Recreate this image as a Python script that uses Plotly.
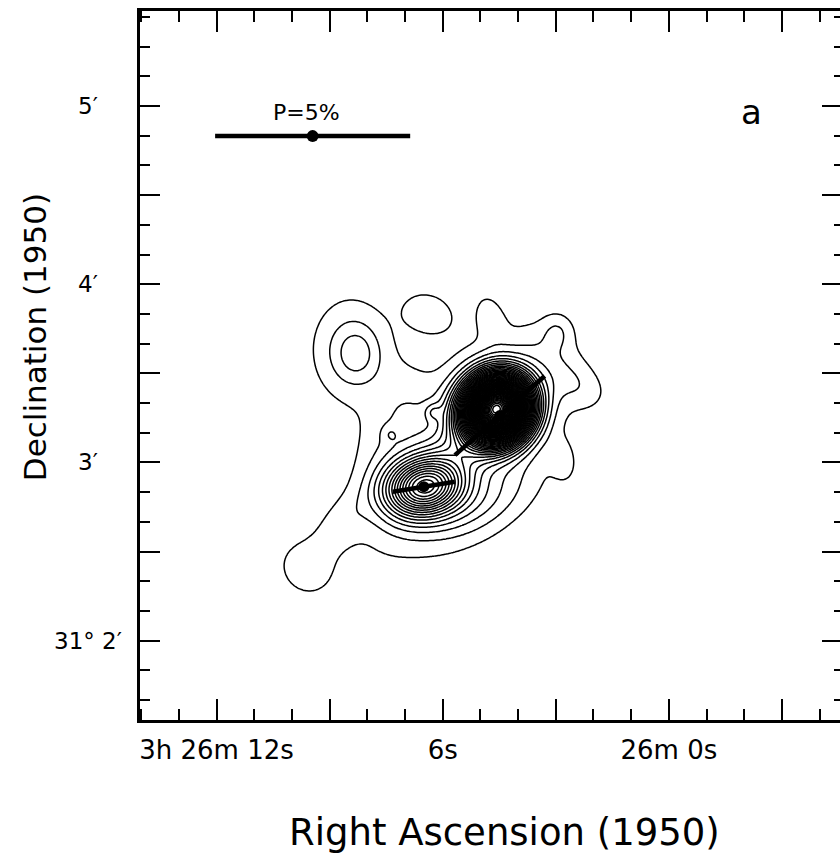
import numpy as np
import plotly.graph_objects as go

# Coordinates: RA as seconds of time past 3h 26m 00s (1950), Dec as arcmin past +31° 00' (1950)
RA_RANGE = [14.03, -4.54]
DEC_RANGE = [1.555, 5.533]
COS_DEC = np.cos(np.radians(31.05))
ARCSEC_PER_RA_SEC = 15.0 * COS_DEC

# Axis ticks
ra_tick_vals = [12, 9, 6, 3, 0, -3]
ra_tick_text = ["3h 26m 12s", "", "6s", "", "26m 0s", ""]
dec_tick_vals = [2.0, 2.5, 3.0, 3.5, 4.0, 4.5, 5.0]
dec_label_vals = [2.0, 3.0, 4.0, 5.0]
dec_label_text = ["31° 2′", "3′", "4′", "5′"]

# Emission components of the intensity map:
# centre (RA s, Dec arcmin), peak (contour units), major/minor sigma (arcsec), position angle (deg E of N)
src_ra    = [4.565, 6.50, 5.493, 5.281, 5.01, 8.279, 8.437, 7.00, 6.395, 4.75, 2.49, 2.97, 3.29, 2.81, 9.658, 8.72, 7.535, 6.26, 7.40]
src_dec   = [3.300, 2.862, 3.086, 3.131, 2.767, 3.608, 3.636, 3.30, 3.844, 3.816, 3.44, 3.731, 3.636, 3.008, 2.402, 2.654, 3.047, 3.283, 3.159]
src_peak  = [50.0, 14.0, 3.0, 1.8, 2.0, 1.6, 2.2, 1.0, 1.5, 1.2, 1.3, 1.3, 0.5, 1.2, 1.4, 1.2, 0.8, 1.6, 0.9]
src_major = [7.5, 9.0, 22.0, 32.0, 14.0, 6.0, 13.0, 10.0, 7.0, 6.0, 8.0, 4.0, 8.0, 5.0, 8.0, 9.0, 10.0, 2.0, 2.0]
src_minor = [7.0, 6.5, 8.0, 18.0, 7.0, 5.0, 10.0, 7.0, 5.5, 3.5, 5.0, 3.5, 5.0, 3.0, 7.0, 5.0, 8.0, 2.0, 2.0]
src_pa    = [-42, 100, -42, -42, -60, 0, 0, 0, 70, 15, 60, 0, 60, 10, 45, -40, 0, 0, 0]

# Contour levels
level_start, level_end, level_step = 1.0, 60.0, 1.0

# Polarization vectors: centre, percentage, position angle
vec_ra  = [4.485, 6.50]
vec_dec = [3.263, 2.864]
vec_pol = [3.05, 1.61]
vec_pa  = [-49.0, -81.0]

# Reference vector (P = 5%)
ref_ra, ref_dec, ref_pol, ref_pa = 9.45, 4.831, 5.0, 90.0
ARCSEC_PER_PERCENT = 13.3

# Intensity grid
gx = np.linspace(-4.7, 14.2, 400)
gy = np.linspace(1.5, 5.6, 350)
GX, GY = np.meshgrid(gx, gy)
field = np.zeros_like(GX)
for ra0, de0, amp, smaj, smin, pa in zip(src_ra, src_dec, src_peak, src_major, src_minor, src_pa):
    u = (GX - ra0) * ARCSEC_PER_RA_SEC        # east offset, arcsec
    v = (GY - de0) * 60.0                     # north offset, arcsec
    t = np.radians(pa)
    a = u * np.sin(t) + v * np.cos(t)
    b = u * np.cos(t) - v * np.sin(t)
    field += amp * np.exp(-0.5 * ((a / smaj) ** 2 + (b / smin) ** 2))


def vector_ends(ra0, de0, pol, pa):
    half = 0.5 * pol * ARCSEC_PER_PERCENT
    t = np.radians(pa)
    dra = half * np.sin(t) / ARCSEC_PER_RA_SEC
    dde = half * np.cos(t) / 60.0
    return [ra0 - dra, ra0 + dra], [de0 - dde, de0 + dde]


fig = go.Figure()

fig.add_trace(go.Contour(
    x=gx, y=gy, z=field,
    contours=dict(start=level_start, end=level_end, size=level_step, coloring="none"),
    line=dict(color="black", width=1.5, smoothing=1.0),
    showscale=False, hoverinfo="skip",
))

# Polarization vectors
for ra0, de0, pol, pa in zip(vec_ra, vec_dec, vec_pol, vec_pa):
    xs, ys = vector_ends(ra0, de0, pol, pa)
    fig.add_trace(go.Scatter(x=xs, y=ys, mode="lines", yaxis="y2",
                             line=dict(color="black", width=4.5), showlegend=False, hoverinfo="skip"))
fig.add_trace(go.Scatter(x=vec_ra, y=vec_dec, mode="markers", yaxis="y2",
                         marker=dict(color="black", size=11), showlegend=False, hoverinfo="skip"))

# Reference vector
xs, ys = vector_ends(ref_ra, ref_dec, ref_pol, ref_pa)
fig.add_trace(go.Scatter(x=xs, y=ys, mode="lines", yaxis="y2",
                         line=dict(color="black", width=4.5), showlegend=False, hoverinfo="skip"))
fig.add_trace(go.Scatter(x=[ref_ra], y=[ref_dec], mode="markers", yaxis="y2",
                         marker=dict(color="black", size=12), showlegend=False, hoverinfo="skip"))

FONT = "DejaVu Sans"

fig.add_annotation(x=ref_ra, y=ref_dec, yref="y2", text="P=5%", showarrow=False,
                   yshift=24, xshift=-6, font=dict(family=FONT, size=22, color="black"))
fig.add_annotation(x=-2.2, y=4.966, yref="y2", text="a", showarrow=False,
                   font=dict(family=FONT, size=34, color="black"))

# Declination labels, centred left of the frame
for val, txt in zip(dec_label_vals, dec_label_text):
    fig.add_annotation(xref="paper", x=-0.074, y=val, yref="y", text=txt, showarrow=False,
                       xanchor="center", yanchor="middle", font=dict(family=FONT, size=23, color="black"))

# Axis titles
fig.add_annotation(xref="paper", yref="paper", x=0.521, y=-0.158, text="Right Ascension (1950)",
                   xanchor="center", yanchor="middle",
                   showarrow=False, font=dict(family=FONT, size=37, color="black"))
fig.add_annotation(xref="paper", yref="paper", x=-0.15, y=0.54, text="Declination (1950)",
                   xanchor="center", yanchor="middle",
                   textangle=-90, showarrow=False, font=dict(family=FONT, size=31, color="black"))

fig.update_layout(
    width=840, height=861,
    margin=dict(l=140, r=0, t=11, b=141),
    paper_bgcolor="white", plot_bgcolor="white",
    showlegend=False,
    font=dict(family=FONT, color="black"),
    xaxis=dict(
        range=RA_RANGE, tickmode="array", tickvals=ra_tick_vals, ticktext=ra_tick_text,
        ticks="inside", ticklen=21, tickwidth=2, tickcolor="black",
        minor=dict(ticks="inside", ticklen=11, tickwidth=2, tickcolor="black", dtick=1, tick0=0),
        showline=True, linewidth=2.5, linecolor="black", mirror="ticks",
        showgrid=False, zeroline=False, ticklabelstandoff=5,
        tickfont=dict(family=FONT, size=26, color="black"),
    ),
    yaxis=dict(
        range=DEC_RANGE, tickmode="array", tickvals=dec_tick_vals, showticklabels=False,
        ticks="inside", ticklen=20, tickwidth=2, tickcolor="black",
        minor=dict(ticks="inside", ticklen=10, tickwidth=2, tickcolor="black", dtick=1/6, tick0=2),
        showline=True, linewidth=2.5, linecolor="black", mirror=False,
        showgrid=False, zeroline=False,
    ),
    yaxis2=dict(
        range=DEC_RANGE, overlaying="y", side="right", anchor="x",
        tickmode="array", tickvals=dec_tick_vals, showticklabels=False,
        ticks="inside", ticklen=18, tickwidth=2, tickcolor="black",
        minor=dict(ticks="inside", ticklen=6, tickwidth=2, tickcolor="black", dtick=1/6, tick0=2),
        showline=False, showgrid=False, zeroline=False,
    ),
)

fig.write_html("out.html")
